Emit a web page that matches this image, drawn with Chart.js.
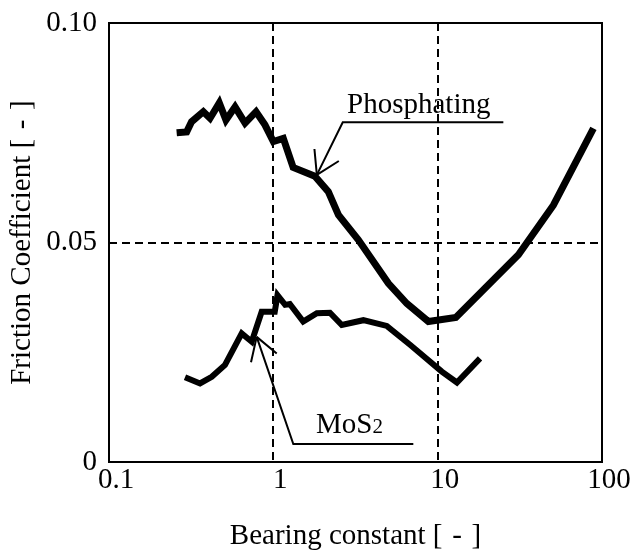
<!DOCTYPE html>
<html>
<head>
<meta charset="utf-8">
<script src="https://cdn.jsdelivr.net/npm/chart.js@4.4.1/dist/chart.umd.min.js"></script>
<style>
  html, body { margin: 0; padding: 0; background: #fff; }
  #wrap { width: 635px; height: 555px; }
</style>
</head>
<body>
<div id="wrap"><canvas id="frictionChart"></canvas></div>
<script>
// bearing constant (x) and friction coefficient (y)
const phosphatingX = [0.258, 0.297, 0.318, 0.375, 0.412, 0.469, 0.515, 0.585, 0.673, 0.785, 0.889, 1.0, 1.15, 1.32, 1.79, 2.16, 2.49, 3.29, 5.01, 6.49, 8.78, 12.9, 31.0, 50.6, 88.7]
const phosphatingY = [0.0750, 0.0752, 0.0775, 0.0798, 0.0783, 0.0818, 0.0779, 0.0809, 0.0772, 0.0798, 0.0768, 0.0730, 0.0737, 0.0671, 0.0651, 0.0616, 0.0563, 0.0506, 0.0407, 0.0361, 0.0320, 0.0329, 0.0472, 0.0585, 0.0760]

const mos2X = [0.290, 0.358, 0.422, 0.508, 0.642, 0.739, 0.849, 1.02, 1.06, 1.18, 1.26, 1.52, 1.84, 2.21, 2.61, 3.53, 4.90, 6.79, 10.6, 13.1, 18.1]
const mos2Y = [0.0193, 0.0179, 0.0194, 0.0221, 0.0293, 0.0274, 0.0342, 0.0342, 0.0380, 0.0358, 0.0360, 0.0320, 0.0339, 0.0340, 0.0312, 0.0323, 0.0310, 0.0267, 0.0206, 0.0181, 0.0236]

const xTicks = [0.1, 1, 10, 100]
const yTicks = [0, 0.05, 0.1]
const yTickLabels = ['0', '0.05', '0.10']
const xGrid = [1, 10]
const yGrid = [0.05]

// callouts, in data units
const callouts = [
  { text: 'Phosphating', sub: '', tip: [1.84, 0.0654], elbow: [2.645, 0.0774], end: [25.1, 0.0774], at: [2.81, 0.0795] },
  { text: 'MoS', sub: '2', tip: [0.792, 0.0285], elbow: [1.323, 0.0041], end: [7.11, 0.0041], at: [1.82, 0.0067] }
]

const FONT = '"Liberation Serif", "Times New Roman", serif'
const SIZE = 29

const toPoints = (xs, ys) => xs.map((x, i) => ({ x: x, y: ys[i] }))

const framePlugin = {
  id: 'frame',
  afterDatasetsDraw(chart) {
    const { ctx, chartArea: a, scales } = chart
    ctx.save()
    ctx.strokeStyle = '#000'
    ctx.lineWidth = 2
    ctx.strokeRect(a.left, a.top, a.right - a.left, a.bottom - a.top)

    // callouts
    callouts.forEach(c => {
      const px = p => [scales.x.getPixelForValue(p[0]), scales.y.getPixelForValue(p[1])]
      const tip = px(c.tip), elbow = px(c.elbow), end = px(c.end), at = px(c.at)
      ctx.lineWidth = 2
      ctx.beginPath()
      ctx.moveTo(end[0], end[1])
      ctx.lineTo(elbow[0], elbow[1])
      ctx.lineTo(tip[0], tip[1])
      ctx.stroke()
      const ang = Math.atan2(elbow[1] - tip[1], elbow[0] - tip[0])
      const len = 26
      ctx.beginPath()
      ;[-0.55, 0.55].forEach(d => {
        ctx.moveTo(tip[0], tip[1])
        ctx.lineTo(tip[0] + len * Math.cos(ang + d), tip[1] + len * Math.sin(ang + d))
      })
      ctx.stroke()

      ctx.fillStyle = '#000'
      ctx.textBaseline = 'alphabetic'
      ctx.textAlign = 'left'
      ctx.font = SIZE + 'px ' + FONT
      ctx.fillText(c.text, at[0], at[1])
      if (c.sub) {
        const w = ctx.measureText(c.text).width
        ctx.font = '21px ' + FONT
        ctx.fillText(c.sub, at[0] + w, at[1])
      }
    })
    ctx.restore()
  }
}

new Chart(document.getElementById('frictionChart'), {
  type: 'scatter',
  data: {
    datasets: [
      {
        label: 'Phosphating',
        data: toPoints(phosphatingX, phosphatingY),
        showLine: true,
        borderColor: '#000',
        borderWidth: 7,
        borderJoinStyle: 'miter',
        pointRadius: 0,
        tension: 0
      },
      {
        label: 'MoS2',
        data: toPoints(mos2X, mos2Y),
        showLine: true,
        borderColor: '#000',
        borderWidth: 6,
        borderJoinStyle: 'miter',
        pointRadius: 0,
        tension: 0
      }
    ]
  },
  options: {
    responsive: true,
    maintainAspectRatio: false,
    animation: false,
    layout: { padding: { top: 23, right: 33, left: 0, bottom: 0 } },
    plugins: {
      legend: { display: false },
      tooltip: { enabled: false }
    },
    scales: {
      x: {
        type: 'logarithmic',
        min: 0.1,
        max: 100,
        afterBuildTicks: s => { s.ticks = xTicks.map(v => ({ value: v })) },
        afterFit: s => { s.height = 93 },
        ticks: {
          callback: v => String(v),
          color: '#000',
          font: { family: FONT, size: SIZE },
          padding: 1,
          labelOffset: 7,
          maxRotation: 0,
          autoSkip: false
        },
        grid: {
          drawTicks: false,
          lineWidth: 2,
          color: c => xGrid.includes(c.tick && c.tick.value) ? '#000' : 'rgba(0,0,0,0)'
        },
        border: { display: false, dash: [8, 5] },
        title: {
          display: true,
          text: 'Bearing constant [\u2004-\u2004]',
          color: '#000',
          font: { family: FONT, size: SIZE },
          padding: { top: 0, bottom: 1 }
        }
      },
      y: {
        type: 'linear',
        min: 0,
        max: 0.1,
        afterBuildTicks: s => { s.ticks = yTicks.map(v => ({ value: v })) },
        afterFit: s => {
          s.width = 109
          s.paddingTop = 0
          s.paddingBottom = 0
        },
        ticks: {
          callback: v => yTickLabels[yTicks.indexOf(v)],
          color: '#000',
          font: { family: FONT, size: SIZE },
          padding: 12
        },
        grid: {
          drawTicks: false,
          lineWidth: 2,
          color: c => yGrid.includes(c.tick && c.tick.value) ? '#000' : 'rgba(0,0,0,0)'
        },
        border: { display: false, dash: [8, 5] },
        title: {
          display: true,
          text: 'Friction Coefficient [\u2004-\u2004]',
          color: '#000',
          font: { family: FONT, size: SIZE },
          padding: { top: 5, bottom: 0 }
        }
      }
    }
  },
  plugins: [framePlugin]
})
</script>
</body>
</html>
